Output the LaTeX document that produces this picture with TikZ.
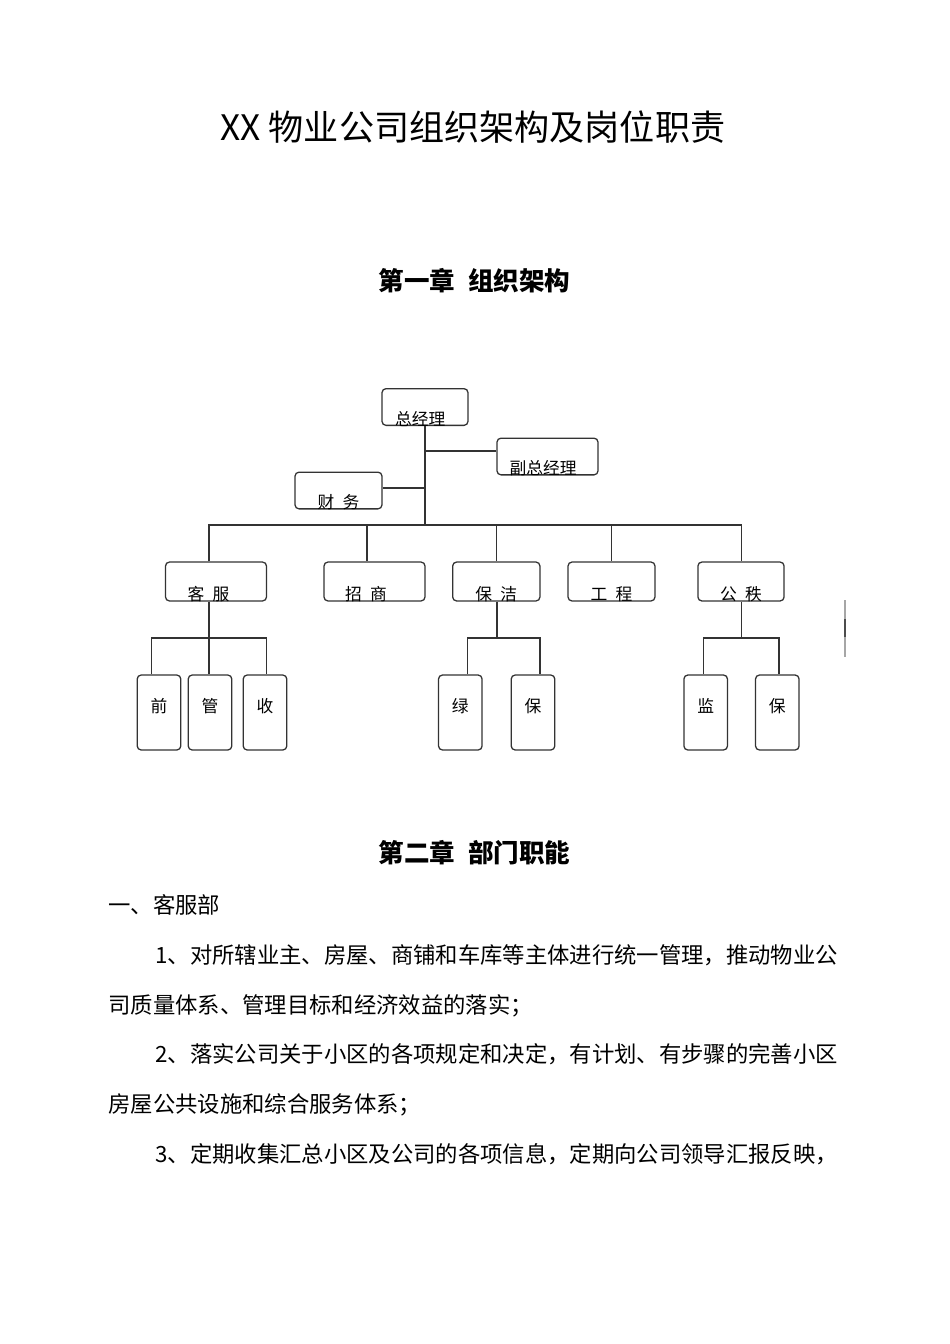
\documentclass[tikz,border=0pt]{standalone}
\usepackage{fontspec}
\setmainfont{Noto Sans CJK SC}
\usepackage{tikz}

\tikzset{
  box/.style={draw=black!80, line width=0.8pt, rounded corners=2.5pt, inner xsep=0pt, inner ysep=0pt, text depth=0pt, font=\fontsize{10.5}{12}\selectfont},
  topbox/.style={box, text height=23pt},
  deptbox/.style={box, text height=24.4pt},
  leafbox/.style={box, minimum width=27.3pt, minimum height=47pt, text height=8pt, text depth=8pt},
  link/.style={draw=black!80, line width=0.8pt},
  textline/.style={anchor=base west, inner sep=0pt, font=\fontsize{14}{16}\selectfont},
  heading/.style={anchor=base, inner sep=0pt, font=\bfseries\fontsize{16}{19}\selectfont},
}

\begin{document}
\begin{tikzpicture}[x=0.6266pt, y=-0.6266pt]

\useasboundingbox (0,0) rectangle (950,1344);
\fill[white] (0,0) rectangle (950,1344);

% titles

\node[anchor=base, inner sep=0pt, font=\fontsize{22}{26}\selectfont] (title) at (473,140.5) {XX 物业公司组织架构及岗位职责};
\node[heading] (ch1) at (474.5,290) {第一章\enspace 组织架构};

% top nodes

\node[topbox, minimum width=53.9pt] (gm) at (425,407) {总经理\kern6pt};
\node[topbox, minimum width=63.3pt] (dgm) at (547.5,456.5) {副总经理\kern5.6pt};
\node[topbox, minimum width=54.5pt] (fin) at (338.5,490.5) {财\enspace 务};

% department nodes

\node[deptbox, minimum width=63.3pt] (kf) at (216,581.5) {客\enspace 服\kern9.4pt};
\node[deptbox, minimum width=63.3pt] (zs) at (374.5,581.5) {招\enspace 商\kern10.6pt};
\node[deptbox, minimum width=54.7pt] (bj) at (496.3,581.5) {保\enspace 洁};
\node[deptbox, minimum width=54.5pt] (gc) at (611.5,581.5) {工\enspace 程};
\node[deptbox, minimum width=54pt] (gz) at (741,581.5) {公\enspace 秩};

% leaf nodes

\node[leafbox] (qian) at (159,712.5) {前};
\node[leafbox] (guan) at (210,712.5) {管};
\node[leafbox] (shou) at (265,712.5) {收};
\node[leafbox] (lv) at (460.3,712.5) {绿};
\node[leafbox] (baoa) at (533,712.5) {保};
\node[leafbox] (jian) at (705.7,712.5) {监};
\node[leafbox] (baob) at (777.3,712.5) {保};

% trunk
\coordinate (jdgm) at (425,451);
\coordinate (jfin) at (425,488);
\coordinate (trunk) at (425,525);
\draw[link] (gm) -- (trunk);
\draw[link] (jdgm) -- (jdgm -| dgm.west);
\draw[link] (jfin) -- (jfin -| fin.east);

% department bus
\coordinate (bkf) at (209,525);
\coordinate (bzs) at (367,525);
\coordinate (bgz) at (741.5,525);
\draw[link] (bkf |- kf.north) -- (bkf) -- (bgz) -- (bgz |- gz.north);
\draw[link] (bzs) -- (bzs |- zs.north);
\draw[link] (bj.north |- trunk) -- (bj.north);
\draw[link] (gc.north |- trunk) -- (gc.north);

% kf to leaves
\coordinate (skf) at (209,638);
\coordinate (skfL) at (151.7,638);
\coordinate (skfR) at (266.7,638);
\draw[link] (skf |- kf.south) -- (skf |- guan.north);
\draw[link] (skfL |- qian.north) -- (skfL) -- (skfR) -- (skfR |- shou.north);

% bj to leaves
\coordinate (sbj) at (497,638);
\coordinate (sbjL) at (467.7,638);
\coordinate (sbjR) at (540,638);
\draw[link] (sbj |- bj.south) -- (sbj);
\draw[link] (sbjL |- lv.north) -- (sbjL) -- (sbjR) -- (sbjR |- baoa.north);

% gz to leaves
\coordinate (sgz) at (741.5,638);
\coordinate (sgzL) at (703.3,638);
\coordinate (sgzR) at (779,638);
\draw[link] (sgz |- gz.south) -- (sgz);
\draw[link] (sgzL |- jian.north) -- (sgzL) -- (sgzR) -- (sgzR |- baob.north);

% mark at right edge
\draw[gray!70, line width=1.3pt] (845,600) -- (845,657);
\draw[black!70, line width=1.3pt] (845,619) -- (845,637);

% text

\node[heading] (ch2) at (474.5,862) {第二章\enspace 部门职能};
\node[textline] (sec1) at (108,913.5) {一、客服部};
\node[textline] (p1a) at (155,963.5) {1、对所辖业主、房屋、商铺和车库等主体进行统一管理，推动物业公};
\node[textline] (p1b) at (108,1013) {司质量体系、管理目标和经济效益的落实；};
\node[textline] (p2a) at (155,1062) {2、落实公司关于小区的各项规定和决定，有计划、有步骤的完善小区};
\node[textline] (p2b) at (108,1112.5) {房屋公共设施和综合服务体系；};
\node[textline] (p3a) at (155,1162.5) {3、定期收集汇总小区及公司的各项信息，定期向公司领导汇报反映，};

\end{tikzpicture}
\end{document}
